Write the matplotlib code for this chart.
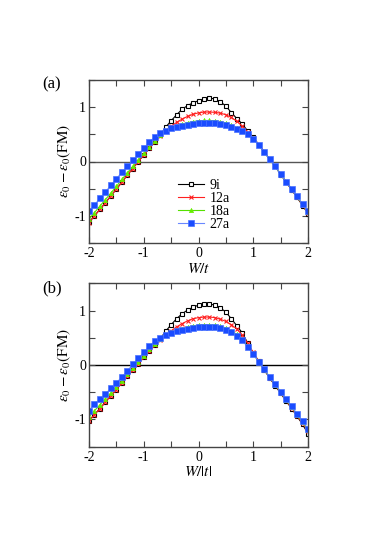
import matplotlib
matplotlib.use("Agg")
import matplotlib.pyplot as plt
from matplotlib.ticker import MultipleLocator

plt.rcParams['font.family'] = ['Liberation Serif', 'DejaVu Serif']
plt.rcParams['mathtext.fontset'] = 'stix'

W = [-2.0, -1.9, -1.8, -1.7, -1.6, -1.5, -1.4, -1.3, -1.2, -1.1,
     -1.0, -0.9, -0.8, -0.7, -0.6, -0.5, -0.4, -0.3, -0.2, -0.1,
     0.0, 0.1, 0.2, 0.3, 0.4, 0.5, 0.6, 0.7, 0.8, 0.9,
     1.0, 1.1, 1.2, 1.3, 1.4, 1.5, 1.6, 1.7, 1.8, 1.9, 2.0]

labels = ['9i', '12a', '18a', '27a']

# panel (a)
black_a = [-1.12, -1.00, -0.88, -0.76, -0.63, -0.51, -0.38, -0.25, -0.13, 0.00,
           0.12, 0.24, 0.36, 0.49, 0.63, 0.75, 0.86, 0.96, 1.03, 1.08,
           1.12, 1.15, 1.17, 1.15, 1.10, 1.02, 0.90, 0.79, 0.69, 0.56,
           0.45, 0.31, 0.18, 0.04, -0.09, -0.24, -0.38, -0.52, -0.66, -0.81, -0.96]
red_a = [-1.13, -1.00, -0.88, -0.76, -0.63, -0.51, -0.38, -0.25, -0.13, 0.00,
         0.12, 0.24, 0.36, 0.47, 0.57, 0.65, 0.72, 0.78, 0.83, 0.87,
         0.895, 0.91, 0.91, 0.905, 0.89, 0.86, 0.81, 0.74, 0.65, 0.54,
         0.44, 0.31, 0.18, 0.04, -0.09, -0.23, -0.37, -0.51, -0.65, -0.80, -0.95]
green_a = [-1.06, -0.94, -0.82, -0.70, -0.58, -0.46, -0.33, -0.21, -0.09, 0.03,
           0.15, 0.27, 0.38, 0.49, 0.57, 0.62, 0.66, 0.69, 0.715, 0.735,
           0.75, 0.755, 0.755, 0.75, 0.735, 0.71, 0.67, 0.62, 0.56, 0.50,
           0.43, 0.30, 0.17, 0.04, -0.09, -0.23, -0.37, -0.50, -0.64, -0.79, -0.93]
blue_a = [-0.92, -0.80, -0.68, -0.56, -0.44, -0.32, -0.20, -0.09, 0.02, 0.13,
          0.24, 0.35, 0.45, 0.53, 0.57, 0.61, 0.63, 0.655, 0.675, 0.69,
          0.70, 0.705, 0.705, 0.70, 0.685, 0.665, 0.64, 0.60, 0.56, 0.50,
          0.42, 0.30, 0.17, 0.04, -0.09, -0.23, -0.37, -0.50, -0.64, -0.78, -0.92]

# panel (b)
black_b = [-1.02, -0.91, -0.80, -0.68, -0.56, -0.45, -0.33, -0.21, -0.09, 0.02,
           0.14, 0.25, 0.36, 0.48, 0.62, 0.74, 0.85, 0.94, 1.01, 1.06,
           1.10, 1.12, 1.12, 1.10, 1.05, 0.97, 0.85, 0.72, 0.59, 0.40,
           0.22, 0.07, -0.09, -0.24, -0.38, -0.52, -0.66, -0.80, -0.94, -1.09, -1.26]
red_b = [-1.03, -0.91, -0.80, -0.68, -0.56, -0.45, -0.33, -0.21, -0.09, 0.02,
         0.14, 0.25, 0.36, 0.46, 0.55, 0.63, 0.70, 0.76, 0.81, 0.85,
         0.87, 0.88, 0.88, 0.87, 0.84, 0.80, 0.74, 0.66, 0.55, 0.40,
         0.23, 0.07, -0.08, -0.23, -0.37, -0.51, -0.65, -0.79, -0.93, -1.07, -1.22]
green_b = [-0.95, -0.84, -0.73, -0.62, -0.51, -0.40, -0.29, -0.17, -0.06, 0.06,
           0.17, 0.29, 0.39, 0.48, 0.55, 0.60, 0.64, 0.67, 0.70, 0.72,
           0.73, 0.735, 0.735, 0.73, 0.71, 0.68, 0.63, 0.56, 0.47, 0.34,
           0.20, 0.06, -0.08, -0.22, -0.36, -0.50, -0.64, -0.77, -0.91, -1.05, -1.20]
blue_b = [-0.84, -0.72, -0.63, -0.53, -0.43, -0.33, -0.22, -0.11, 0.01, 0.12,
          0.23, 0.34, 0.44, 0.50, 0.55, 0.59, 0.62, 0.645, 0.665, 0.68,
          0.69, 0.695, 0.70, 0.69, 0.675, 0.645, 0.60, 0.53, 0.45, 0.33,
          0.20, 0.06, -0.08, -0.22, -0.35, -0.49, -0.63, -0.76, -0.90, -1.03, -1.18]

styles = [
    dict(color='black', marker='s', markersize=3.3, markerfacecolor='white',
         markeredgecolor='black', markeredgewidth=0.8, linewidth=0.8),
    dict(color='#ff2020', marker='x', markersize=2.8, markeredgewidth=0.8, linewidth=0.8),
    dict(color='#55e000', marker='^', markersize=3.3, markeredgewidth=0.3,
         markerfacecolor='#66ee00', markeredgecolor='#66ee00', linewidth=0.8),
    dict(color='#6a88ff', marker='s', markersize=3.8, markerfacecolor='#1a4cff',
         markeredgecolor='#4a72ff', markeredgewidth=0.5, linewidth=0.8),
]

fig = plt.figure(figsize=(3.82, 5.39), dpi=100)
ax_a = fig.add_axes([89/382, 1-243/539, 219/382, 163/539])
ax_b = fig.add_axes([89/382, 1-446.7/539, 219/382, 163.4/539])

panels = [(ax_a, [black_a, red_a, green_a, blue_a], r'$W/t$', '(a)', '#555555'),
          (ax_b, [black_b, red_b, green_b, blue_b], r'$W/|t|$', '(b)', 'black')]

for ax, series, xl, tag, zc in panels:
    ax.axhline(0, color=zc, linewidth=1.0, zorder=1)
    for vals, lab, st in zip(series, labels, styles):
        ax.plot(W, vals, label=lab, zorder=2, **st)
    ax.set_xlim(-2, 2)
    ax.set_ylim(-1.5, 1.5)
    ax.xaxis.set_minor_locator(MultipleLocator(0.5))
    ax.yaxis.set_minor_locator(MultipleLocator(0.5))
    ax.set_xticks([-2, -1, 0, 1, 2])
    ax.set_xticklabels(['-2', '-1', '0', '1', '2'])
    ax.set_yticks([-1, 0, 1])
    ax.set_yticklabels(['-1', '0', '1'])
    ax.tick_params(which='both', direction='in', top=True, right=True,
                   labelsize=10, width=0.8, color='#444444')
    ax.tick_params(axis='y', pad=2)
    ax.tick_params(axis='x', pad=3)
    ax.tick_params(which='major', length=4)
    ax.tick_params(which='minor', length=4)
    for s in ax.spines.values():
        s.set_linewidth(1.0)
        s.set_color('#444444')
    ax.set_xlabel(xl, fontsize=11, labelpad=1)
    ax.set_ylabel(r'$\varepsilon_0-\varepsilon_0(\mathrm{FM})$', fontsize=11, labelpad=1)
    ax.text(-0.215, 1.02, tag, transform=ax.transAxes, fontsize=12, va='top', ha='left')

ax_a.legend(loc='lower left', bbox_to_anchor=(0.36, 0.015), frameon=False,
            fontsize=10, labelspacing=0.0, handlelength=1.9, handletextpad=0.4,
            borderpad=0.2)

fig.savefig('out.png', dpi=100)
